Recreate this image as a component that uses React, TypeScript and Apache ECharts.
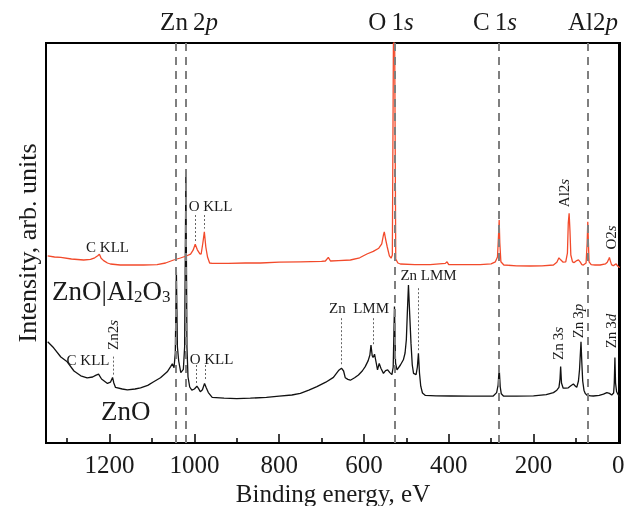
import React, { useEffect, useRef } from "react";
import * as echarts from "echarts";

const FONT = "Liberation Serif, serif";

// x axis (binding energy, eV), reversed
const xMin = -4;
const xMax = 1350;
const majorTicks = [0, 200, 400, 600, 800, 1000, 1200];
const minorTicks = [100, 300, 500, 700, 900, 1100, 1300];
// dashed reference lines: Zn2p1/2, Zn2p3/2, O1s, C1s, Al2p
const peakLines = [1043, 1021, 528.5, 281, 72];

// ZnO|Al2O3 (red)
const redEnergy = [
  1346, 1330, 1315, 1290, 1261, 1245, 1235, 1228, 1224, 1220, 1214, 1205, 1198, 1175, 1151, 1120, 1088,
  1068, 1049, 1033, 1019, 1009, 1003, 998, 993, 987, 984, 980, 976.5, 973, 969, 964, 958, 920, 880, 844,
  800, 750, 700, 691, 684, 679, 660, 632, 610, 593, 578, 565, 558, 554, 552, 549, 545, 540, 536, 533,
  530.5, 527.5, 525, 520, 514, 480, 444, 408, 404, 400, 360, 326, 300, 290, 285, 282.5, 281, 279.5, 277,
  270, 240, 208, 180, 153, 145, 140, 136, 130, 124, 120, 118, 116, 114, 112, 108, 104, 98, 94, 90, 86,
  82.5, 76, 73.5, 72, 70.5, 69, 64, 55, 43, 30, 26, 22.5, 21, 19, 16, 12, 8, 5, 2, -1, -4,
];
const redIntensity = [
  46.8, 46.5, 46.4, 46.0, 45.75, 45.9, 46.3, 46.8, 47.2, 46.2, 45.6, 45.0, 44.75, 44.5, 44.5, 44.5, 44.6,
  45.0, 45.75, 46.25, 46.75, 47.2, 48.2, 49.7, 48.3, 47.3, 47.25, 50, 52.8, 49, 46.5, 45, 44.9, 44.9, 45.0, 45.0,
  45.2, 45.3, 45.4, 45.5, 46.4, 45.5, 45.6, 45.75, 46.3, 47.25, 47.9, 48.7, 49.8, 52, 52.8, 51, 49, 46.8, 46.2, 47,
  100, 100, 46, 45.0, 44.75, 44.6, 44.6, 44.9, 45.3, 44.6, 44.6, 44.6, 44.8, 45.3, 46.5, 52, 55.75, 50, 45.3,
  44.5, 44.3, 44.25, 44.3, 44.5, 45.2, 46.3, 45.8, 45.2, 45.3, 47.5, 55, 57.4, 53, 47, 45.3, 45.1, 45.6, 45.8, 45.3, 44.6,
  44.5, 45.0, 50, 55.3, 50, 45.3, 44.6, 44.5, 44.5, 44.8, 45.2, 46.0, 46.4, 45.6, 44.6, 44.3, 44.6, 44.8, 44.3, 44.0, 43.9,
];

// ZnO (black)
const blackEnergy = [
  1346, 1332, 1315, 1300, 1284, 1268, 1253, 1240, 1233, 1226, 1219, 1205, 1198, 1193, 1190, 1186, 1170,
  1158, 1140, 1127, 1110, 1096, 1080, 1064, 1056, 1052, 1048, 1045, 1042.5, 1040, 1037, 1032, 1026, 1023,
  1020, 1017.5, 1015, 1011, 1006, 1000, 994, 990, 986, 981, 976, 972, 967, 958, 930, 900, 868, 830, 800,
  770, 750, 730, 711, 690, 672, 660, 653, 648, 644, 638, 632, 622, 613, 604, 597, 590, 586, 583.4, 580.5,
  578.5, 575, 571, 568, 564, 560, 554, 549, 544, 539, 534, 531, 528, 525.5, 522, 514, 507, 503, 500, 497.5,
  495, 492, 489, 486, 483, 477, 474, 471.5, 469, 466, 462, 455, 430, 396, 350, 295, 287, 283.5, 281, 278.5,
  276, 271, 240, 200, 170, 153, 145, 140, 137.5, 136, 134, 130, 124, 118, 112, 106, 101, 98, 94, 91.5, 88,
  86, 84, 81, 78, 74.5, 65, 59, 45, 35, 27, 21, 15.5, 11, 9.5, 8, 6.5, 4, 1, -2, -4,
];
const blackIntensity = [
  25.3, 23.8, 21.5, 20.3, 18.0, 16.8, 16.3, 16.5, 16.9, 17.2, 16.0, 14.9, 15.2, 16.4, 15.0, 13.9, 13.5,
  13.3, 13.5, 13.8, 14.4, 15.3, 16.3, 17.8, 19.1, 19.8, 18.8, 22.5, 43.2, 24.0, 20.5, 17.6, 18.4, 24,
  67.6, 24, 16.5, 14.0, 13.2, 13.5, 14.2, 13.6, 12.8, 13.3, 14.9, 13.8, 12.6, 11.4, 11.2, 11.1, 11.2, 11.4, 11.7,
  12.0, 12.4, 13.2, 14.1, 15.2, 16.4, 18.1, 18.7, 18.0, 16.3, 15.9, 15.7, 16.3, 17.0, 18.0, 19.1, 20.6, 22.0, 24.5, 21.8,
  21.4, 22.2, 20.0, 18.3, 19.9, 18.7, 17.4, 18.1, 18.3, 17.6, 17.1, 19, 34.1, 20, 18.3, 19.5, 20.8, 22.5, 25.8, 33,
  39.5, 32, 24.9, 19.5, 17.4, 17.1, 19.0, 22.4, 17.5, 14.2, 12.5, 11.9, 11.8, 11.75, 11.7, 11.75, 12.6, 14.5, 18.7, 14,
  12.3, 11.75, 11.7, 11.8, 12.1, 12.6, 13.2, 13.9, 16, 19.1, 15, 13.7, 13.7, 13.8, 14.3, 14.75, 14.2, 13.9, 15.5, 18.3, 25.3,
  20, 15.5, 13.2, 12.4, 12.0, 11.8, 11.75, 11.9, 12.2, 12.6, 12.4, 12.0, 12.5, 15, 21.4, 15, 12.8, 12.2, 11.7, 11.6,
];

// dotted leader lines: [energy, fromIntensity, toIntensity]
const redLeaders = [
  [998, 57, 50.5],
  [976.5, 57, 53.6],
];
const blackLeaders = [
  [1192, 21.6, 16.8],
  [996, 19.5, 14.9],
  [975.5, 19.5, 15.6],
  [652.7, 31.2, 19.4],
  [577, 31.2, 24.6],
  [471.5, 38.7, 22.8],
];

const TEXT = "#1a1a1a";

function richText(x: number, y: number, text: string, size: number, opts: any = {}) {
  return {
    type: "text",
    x,
    y,
    rotation: opts.rotation || 0,
    z: 100,
    style: {
      text,
      fill: TEXT,
      fontFamily: FONT,
      fontSize: size,
      align: opts.align || "center",
      verticalAlign: "middle",
      rich: {
        n: { fontFamily: FONT, fontSize: size, lineHeight: size, fill: TEXT },
        i: { fontFamily: FONT, fontSize: size, lineHeight: size, fontStyle: "italic", fill: TEXT },
        s: {
          fontFamily: FONT,
          fontSize: Math.round(size * 0.64),
          lineHeight: Math.round(size * 0.36),
          verticalAlign: "bottom",
          fill: TEXT,
        },
      },
    },
  };
}

export default function App() {
  const ref = useRef<HTMLDivElement>(null);

  useEffect(() => {
    if (!ref.current) return;
    const chart = echarts.init(ref.current, null, { renderer: "svg" });
    const red = redEnergy.map((e, i) => [e, redIntensity[i]]);
    const black = blackEnergy.map((e, i) => [e, blackIntensity[i]]);
    const seg = (l: number[]) => [{ coord: [l[0], l[1]] }, { coord: [l[0], l[2]] }];
    const dotted = { color: "#666", width: 1, type: [2, 2] };
    const R = Math.PI / 2;

    chart.setOption({
      animation: false,
      textStyle: { fontFamily: FONT },
      grid: {
        left: 46,
        right: 14,
        top: 43,
        bottom: 63,
        show: true,
        borderColor: "#000",
        borderWidth: 2,
      },
      xAxis: [
        {
          type: "value",
          min: xMin,
          max: xMax,
          inverse: true,
          position: "bottom",
          axisLine: { show: true, lineStyle: { color: "#000", width: 2 } },
          axisTick: {
            show: true,
            inside: true,
            length: 9,
            customValues: majorTicks,
            lineStyle: { color: "#000", width: 1.5 },
          },
          axisLabel: {
            customValues: majorTicks,
            formatter: (v: number) => String(v),
            margin: 9,
            color: TEXT,
            fontFamily: FONT,
            fontSize: 25,
            lineHeight: 24,
          },
          splitLine: { show: false },
        },
        {
          type: "value",
          min: xMin,
          max: xMax,
          inverse: true,
          position: "bottom",
          axisLine: { show: false },
          axisTick: {
            show: true,
            inside: true,
            length: 5,
            customValues: minorTicks,
            lineStyle: { color: "#000", width: 1.5 },
          },
          axisLabel: { show: false },
          splitLine: { show: false },
        },
      ],
      yAxis: {
        type: "value",
        min: 0,
        max: 100,
        axisLine: { show: true, lineStyle: { color: "#000", width: 2 } },
        axisTick: { show: false },
        axisLabel: { show: false },
        splitLine: { show: false },
      },
      series: [
        {
          type: "line",
          name: "refs",
          data: [],
          z: 1,
          silent: true,
          markLine: {
            silent: true,
            symbol: "none",
            label: { show: false },
            lineStyle: { color: "#7f7f7f", width: 2, type: [8, 6] },
            data: peakLines.map((v) => ({ xAxis: v })),
          },
        },
        {
          type: "line",
          name: "ZnO",
          data: black,
          symbol: "none",
          z: 3,
          lineStyle: { color: "#111", width: 1.3 },
          markLine: {
            silent: true,
            symbol: "none",
            label: { show: false },
            lineStyle: dotted,
            data: blackLeaders.map(seg),
          },
        },
        {
          type: "line",
          name: "ZnO|Al2O3",
          data: red,
          symbol: "none",
          z: 4,
          lineStyle: { color: "#f24a2b", width: 1.3 },
          markLine: {
            silent: true,
            symbol: "none",
            label: { show: false },
            lineStyle: dotted,
            data: redLeaders.map(seg),
          },
        },
      ],
      graphic: [
        // peak labels above the frame
        richText(189, 21, "{n|Zn\u20092}{i|p}", 25),
        richText(391, 21, "{n|O\u20091}{i|s}", 25),
        richText(495, 21, "{n|C\u20091}{i|s}", 25),
        richText(593, 21, "{n|Al2}{i|p}", 25),
        // sample labels
        richText(52, 291, "{n|ZnO|Al}{s|2}{n|O}{s|3}", 27, { align: "left" }),
        richText(101, 411, "{n|ZnO}", 27, { align: "left" }),
        // Auger labels
        richText(107.5, 246.5, "{n|C KLL}", 15),
        richText(210.5, 206, "{n|O KLL}", 15),
        richText(88, 360, "{n|C KLL}", 15),
        richText(211.5, 358.5, "{n|O KLL}", 15),
        richText(428.5, 275, "{n|Zn LMM}", 15),
        richText(359, 308, "{n|Zn\u2002LMM}", 15),
        // rotated core-level labels
        richText(112.5, 335, "{n|Zn2}{i|s}", 15, { rotation: R }),
        richText(564, 193, "{n|Al2}{i|s}", 15, { rotation: R }),
        richText(611, 237.5, "{n|O2}{i|s}", 15, { rotation: R }),
        richText(558, 343.5, "{n|Zn\u20093}{i|s}", 15, { rotation: R }),
        richText(578, 321, "{n|Zn\u20093}{i|p}", 15, { rotation: R }),
        richText(611, 331, "{n|Zn\u20093}{i|d}", 15, { rotation: R }),
        // axis titles
        richText(27, 243, "{n|Intensity, arb. units}", 26, { rotation: R }),
        richText(333, 493.5, "{n|Binding energy, eV}", 25),
      ],
    });
    return () => chart.dispose();
  }, []);

  return (
    <div
      ref={ref}
      style={{ position: "fixed", left: 0, top: 0, width: 634, height: 506 }}
    />
  );
}
